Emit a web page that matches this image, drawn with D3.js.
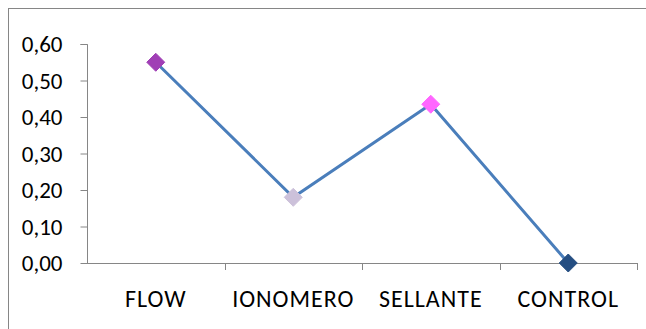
<!DOCTYPE html>
<html>
<head>
<meta charset="utf-8">
<script src="https://cdn.jsdelivr.net/npm/d3@7"></script>
<style>
  html, body { margin: 0; padding: 0; background: #fff; }
  svg { display: block; }
</style>
</head>
<body>
<svg id="chart" width="646" height="329"></svg>
<script>
// chart data
const categories = ["FLOW", "IONOMERO", "SELLANTE", "CONTROL"];
const values = [0.55, 0.18, 0.435, 0.0];
const markerColors = ["#a03fb5", "#ccc1da", "#ff66ff", "#254e82"];
const yTicks = [0, 0.1, 0.2, 0.3, 0.4, 0.5, 0.6];

const svg = d3.select("#chart");
const font = "Carlito, 'Liberation Sans', Arial, sans-serif";

// outer frame (cropped at right and bottom)
svg.append("rect")
  .attr("x", 8.5).attr("y", 8.5)
  .attr("width", 700).attr("height", 400)
  .attr("fill", "none")
  .attr("stroke", "#868686")
  .attr("stroke-width", 1);

const margin = { left: 87, right: 637, top: 44, bottom: 263 };

const x = d3.scaleBand()
  .domain(categories)
  .range([margin.left, margin.right]);

const y = d3.scaleLinear()
  .domain([0, 0.6])
  .range([margin.bottom, margin.top]);

const fmt = d => d3.format(".2f")(d).replace(".", ",");

function styleText(sel, size, spacing) {
  sel.attr("fill", "#000")
    .style("font-family", font)
    .style("font-size", size)
    .style("letter-spacing", spacing);
}

// y axis
const yAxis = svg.append("g")
  .attr("transform", `translate(${margin.left + 0.5},0)`)
  .call(d3.axisLeft(y).tickValues(yTicks).tickFormat(fmt).tickSize(7).tickPadding(18));
yAxis.select(".domain").attr("stroke", "#868686").attr("d", `M-7,${y(0.6) + 0.5}H0V${y(0) + 0.5}`);
yAxis.selectAll(".tick line").attr("stroke", "#868686");
yAxis.selectAll(".tick text").call(styleText, "23px", "0px").attr("dy", "0.34em");

// x axis
const xAxis = svg.append("g")
  .attr("transform", `translate(0,${margin.bottom + 0.5})`)
  .call(d3.axisBottom(x).tickSize(0));
xAxis.select(".domain").attr("stroke", "#868686").attr("d", `M${margin.left},0H${margin.right}`);
xAxis.selectAll(".tick text").call(styleText, "24px", "1px").attr("y", 43).attr("dy", 0);

// category separator ticks
const sepPositions = categories.map(c => x(c)).concat([x.range()[1]]);
svg.append("g")
  .selectAll("line")
  .data(sepPositions.slice(1))
  .join("line")
  .attr("x1", d => Math.round(d) + 0.5)
  .attr("x2", d => Math.round(d) + 0.5)
  .attr("y1", margin.bottom)
  .attr("y2", margin.bottom + 7)
  .attr("stroke", "#868686");

// line
const cx = c => x(c) + x.bandwidth() / 2;
svg.append("path")
  .datum(categories.map((c, i) => ({ c, v: values[i] })))
  .attr("fill", "none")
  .attr("stroke", "#4a7ebb")
  .attr("stroke-width", 3)
  .attr("d", d3.line().x(d => cx(d.c)).y(d => y(d.v)));

// markers
svg.append("g")
  .selectAll("path")
  .data(categories.map((c, i) => ({ c, v: values[i], color: markerColors[i] })))
  .join("path")
  .attr("transform", d => `translate(${cx(d.c)},${y(d.v)})`)
  .attr("d", "M0,-9L9,0L0,9L-9,0Z")
  .attr("fill", d => d.color)
  .attr("stroke", d => d.color)
  .attr("stroke-linejoin", "round")
  .attr("stroke-width", 1);
</script>
</body>
</html>
